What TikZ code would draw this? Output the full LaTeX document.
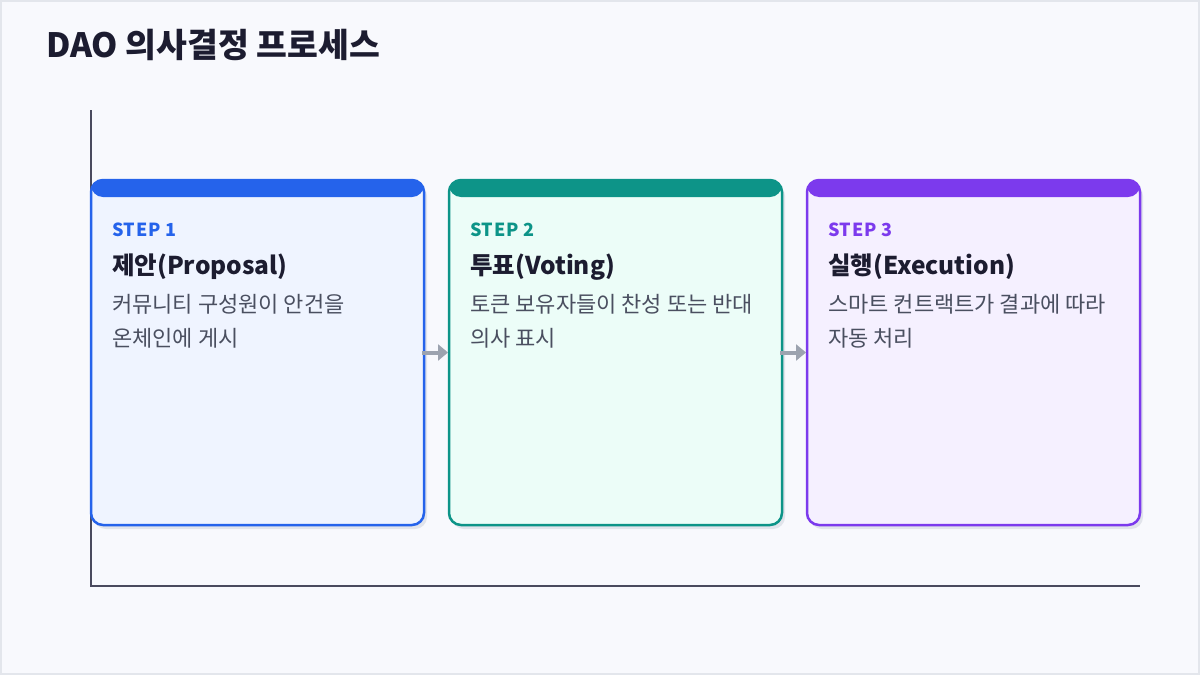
\documentclass[tikz,border=0pt]{standalone}
\usepackage{fontspec}
\setmainfont{Noto Sans CJK KR}
\usetikzlibrary{positioning, arrows.meta, shadows}
\definecolor{bg}{HTML}{F8F9FD}
\definecolor{frame}{HTML}{E3E6EC}
\definecolor{axis}{HTML}{4A4A5E}
\definecolor{ink}{HTML}{1C1C30}
\definecolor{desc}{HTML}{4A4F60}
\definecolor{arrowc}{HTML}{9CA3AF}
\definecolor{shade}{HTML}{E1E4EB}
\definecolor{blueA}{HTML}{2563EB}
\definecolor{blueB}{HTML}{EFF4FF}
\definecolor{tealA}{HTML}{0D9488}
\definecolor{tealB}{HTML}{ECFDF8}
\definecolor{purpA}{HTML}{7C3AED}
\definecolor{purpB}{HTML}{F5F0FF}
\begin{document}
\begin{tikzpicture}[x=1pt, y=-1pt, node distance={25pt},
    card/.style 2 args = {draw=#1, fill=#2, line width=2.5pt, rounded corners=12pt,
      minimum width=333pt, minimum height=345pt, inner sep=0pt, outer sep=0pt,
      drop shadow={shadow xshift=3pt, shadow yshift=-4pt, fill=shade, opacity=1},
      path picture={\fill[#1] (path picture bounding box.north west) rectangle ([yshift=-17pt]path picture bounding box.north east);}},
    steplbl/.style = {anchor=base west, inner sep=0pt, font=\fontsize{18}{22}\selectfont\bfseries\addfontfeatures{LetterSpace=4}},
    head/.style = {anchor=base west, inner sep=0pt, text=ink, font=\fontsize{24.5}{28}\selectfont\bfseries},
    body/.style = {anchor=base west, inner sep=0pt, text=desc, align=left, font=\fontsize{22}{34}\selectfont},
    flow/.style = {draw=arrowc, line width=4pt, -{Triangle[length=10pt, width=16pt]}}]
    \useasboundingbox (0,0) rectangle (1200,675);
    \draw[fill=bg, draw=frame, line width=2pt] (1,1) rectangle (1199,674);
    \node[anchor=base west, inner sep=0pt, text=ink, font=\fontsize{33.5}{38}\selectfont\bfseries] (title) at (46,57) {DAO 의사결정 프로세스};
    % axes
    \draw[axis, line width=2pt] (91,110) -- (91,586) -- (1140,586);
    % cards
    \node[card={blueA}{blueB}] (c1) at (257.5,352.5) {};
    \node[card={tealA}{tealB}] (c2) [right=of c1] {};
    \node[card={purpA}{purpB}] (c3) [right=of c2] {};
    \draw[flow] ([xshift=-2pt]c1.east) -- ([xshift=-1pt]c2.west);
    \draw[flow] ([xshift=-2pt]c2.east) -- ([xshift=-1pt]c3.west);
    % texts (body base = last line)
    \node[steplbl, text=blueA] (s1) at ([xshift=21pt, yshift=-56.5pt]c1.north west) {STEP 1};
    \node[head] (h1) at ([xshift=21pt, yshift=-94pt]c1.north west) {제안(Proposal)};
    \node[body] (d1) at ([xshift=21pt, yshift=-166pt]c1.north west) {커뮤니티 구성원이 안건을\\온체인에 게시};
    \node[steplbl, text=tealA] (s2) at ([xshift=21pt, yshift=-56.5pt]c2.north west) {STEP 2};
    \node[head] (h2) at ([xshift=21pt, yshift=-94pt]c2.north west) {투표(Voting)};
    \node[body] (d2) at ([xshift=21pt, yshift=-166pt]c2.north west) {토큰 보유자들이 찬성 또는 반대\\의사 표시};
    \node[steplbl, text=purpA] (s3) at ([xshift=21pt, yshift=-56.5pt]c3.north west) {STEP 3};
    \node[head] (h3) at ([xshift=21pt, yshift=-94pt]c3.north west) {실행(Execution)};
    \node[body] (d3) at ([xshift=21pt, yshift=-166pt]c3.north west) {스마트 컨트랙트가 결과에 따라\\자동 처리};
\end{tikzpicture}
\end{document}
